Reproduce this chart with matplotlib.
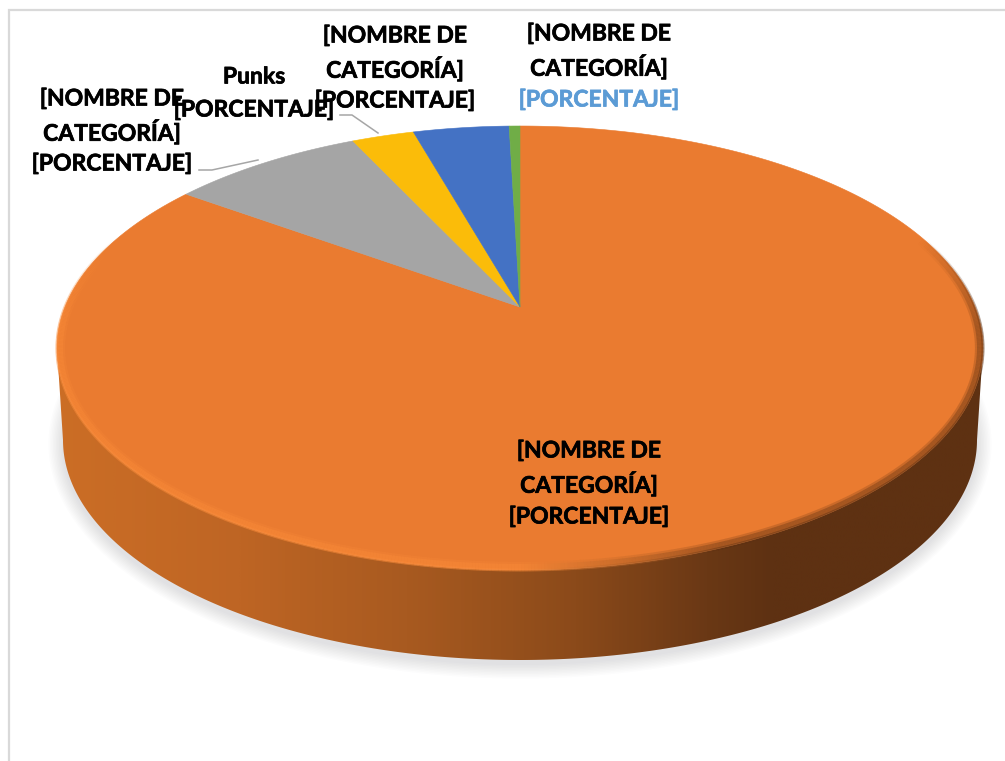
import numpy as np
import matplotlib
matplotlib.use("Agg")
import matplotlib.pyplot as plt
import matplotlib.patheffects as pe
from matplotlib.collections import LineCollection
from matplotlib.colors import LinearSegmentedColormap, to_rgb
from matplotlib.patches import Polygon, Rectangle

# Data, clockwise from 12 o'clock
categories = ["Orange", "Gray", "Punks", "Blue", "Green"]
shares = [84.9, 8.05, 2.6, 4.0, 0.45]
slice_colors = ["#EA7B30", "#A5A5A5", "#FBBC09", "#4472C4", "#70AD47"]
label_lines = [
    ["[NOMBRE DE", "CATEGORÍA]", "[PORCENTAJE]"],
    ["[NOMBRE DE", "CATEGORÍA]", "[PORCENTAJE]"],
    ["Punks", "[PORCENTAJE]"],
    ["[NOMBRE DE", "CATEGORÍA]", "[PORCENTAJE]"],
    ["[NOMBRE DE", "CATEGORÍA]", "[PORCENTAJE]"],
]
label_x = [589, 112, 254, 395, 599]
label_y = [[451, 484, 517], [99, 132, 164], [77, 110], [36, 69, 101], [34, 67, 100]]

plt.rcParams["font.family"] = ["Lato", "DejaVu Sans"]
fig = plt.figure(figsize=(10.05, 7.61), dpi=100)
ax = fig.add_axes([0, 0, 1, 1])
ax.set_axis_off()

CX, CY, A, B = 520.0, 348.0, 463.0, 222.0     # top face ellipse
APEX_Y = 307.0                                  # where the slices meet (perspective)
BX, BY, BA, BB = 520.0, 440.0, 457.0, 220.0     # bottom ellipse of the wall
k = (CY - APEX_Y) / B
A0 = A * np.sqrt(1 - k ** 2)


def top_point(theta):
    """Perspective projection of a circle angle (clockwise from top) on the top face."""
    u, v = np.sin(theta), np.cos(theta)
    d = 1 + k * v
    return CX + A0 * u / d, CY - (B * v + B * k) / d


# frame
ax.add_patch(Rectangle((9, 10), 1100, 900, fc="white", ec="#D9D9D9", lw=1.6, zorder=0))

# soft shadow
for r in np.arange(1, 15, 1.5):
    tt = np.linspace(0, 2 * np.pi, 300)
    ax.fill(BX + (BA + r) * np.cos(tt), BY + 4 + (BB + r) * np.sin(tt),
            color="#A0A0AA", alpha=0.03, lw=0, zorder=1)

# wall with horizontal gradient
tl = np.linspace(np.pi, 0, 300)
wall_x = np.r_[BX + BA * np.cos(tl), (CX + A * np.cos(tl))[::-1]]
wall_y = np.r_[BY + BB * np.sin(tl), (CY + B * np.sin(tl))[::-1]]
wall = Polygon(np.c_[wall_x, wall_y], closed=True, transform=ax.transData, fc="none", ec="none")
ax.add_patch(wall)
cmap = LinearSegmentedColormap.from_list("wall", [
    (0.0, "#CC6E26"), (0.2, "#BE6524"), (0.38, "#A85A20"), (0.56, "#8B4A1A"),
    (0.70, "#6A3815"), (0.77, "#5E3112"), (1.0, "#5E3112")])
im = ax.imshow(np.linspace(0, 1, 900)[None, :], extent=(50, 990, 670, 340), cmap=cmap,
               aspect="auto", zorder=2, interpolation="bilinear")
im.set_clip_path(wall)

# top face: slices from the shares
fractions = np.array(shares) / np.sum(shares)
edges = np.r_[0, np.cumsum(fractions)] * 2 * np.pi
for start, stop, color in zip(edges[:-1], edges[1:], slice_colors):
    th = np.linspace(start, stop, max(int((stop - start) * 160), 12))
    x, y = top_point(th)
    ax.add_patch(Polygon(np.c_[np.r_[CX, x], np.r_[APEX_Y, y]], closed=True,
                         fc=color, ec=color, lw=0.4, zorder=3))

# rim: bright on the left, blurred dark on the right, fading out towards the back
th = np.linspace(edges[0], edges[1], 900)
rx, ry = top_point(th)
pts = np.c_[rx, ry]
inset = np.c_[CX + (rx - CX) * 0.993, CY + (ry - CY) * 0.985]
bright = np.array(to_rgb("#FC8D3A"))
dark = np.array(to_rgb("#5E3112"))


def rim_layer(points, lw, alpha_scale):
    seg = np.stack([points[:-1], points[1:]], axis=1)
    xm = seg[:, :, 0].mean(axis=1)
    ym = seg[:, :, 1].mean(axis=1)
    s = np.clip((xm - 520) / 200, 0, 1)
    cols = np.zeros((len(seg), 4))
    cols[:, :3] = bright * (1 - s[:, None]) + dark * s[:, None]
    cols[:, 3] = alpha_scale * np.clip((ym - 240) / 90, 0, 1)
    ax.add_collection(LineCollection(seg, colors=cols, linewidths=lw, zorder=4, capstyle="butt"))


rim_layer(inset, 7, 0.22)
rim_layer(inset, 4, 0.35)
rim_layer(pts, 2, 0.45)

# leader lines
leader_color = "#A6A6A6"
ax.plot([199, 212, 258], [170, 170, 160], color=leader_color, lw=1.1, zorder=5)
ax.plot([340, 352, 378], [115, 115, 133], color=leader_color, lw=1.1, zorder=5)

# labels
for i, (lines, xpos, ys) in enumerate(zip(label_lines, label_x, label_y)):
    for line, ypos in zip(lines, ys):
        color = "#5B9BD5" if (i == 4 and line == "[PORCENTAJE]") else "black"
        ax.text(xpos, ypos, line, ha="center", va="center", fontsize=16.5,
                fontweight="bold", color=color, zorder=6,
                path_effects=[pe.withStroke(linewidth=0.5, foreground=color)])

ax.set_xlim(0, 1005)
ax.set_ylim(761, 0)
fig.savefig("out.png", dpi=100, facecolor="white")
